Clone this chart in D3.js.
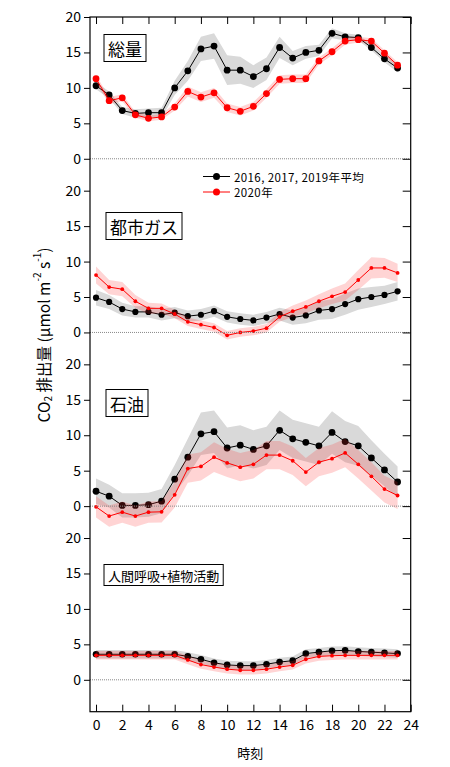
<!DOCTYPE html>
<html><head><meta charset="utf-8">
<script src="https://cdn.jsdelivr.net/npm/d3@7"></script>
<style>body{margin:0;background:#fff}svg{display:block}text{font-family:"Noto Sans CJK JP","DejaVu Sans",sans-serif}</style>
</head><body><svg id="c" width="450" height="767"></svg>
<script>
const hours = d3.range(0,24);
const panelNames = ["総量","都市ガス","石油","人間呼吸+植物活動"];
const seriesNames = ["2016, 2017, 2019年平均","2020年"];
const xTicks = [0,2,4,6,8,10,12,14,16,18,20,22,24];
const yTicks = [0,5,10,15,20];

// 総量
const totalAvg = [10.3,9.0,6.8,6.4,6.5,6.5,10.0,12.4,15.5,15.9,12.5,12.5,11.6,12.7,15.7,14.2,15.0,15.3,17.7,17.2,17.1,15.7,14.1,12.8];
const totalAvgErr = [0.5,0.5,0.5,0.6,0.6,0.7,1.0,1.4,1.7,1.8,2.1,1.9,1.6,1.6,1.5,1.0,0.9,0.8,0.7,0.5,0.4,0.4,0.5,0.6];
const total2020 = [11.3,8.2,8.6,6.2,5.7,5.9,7.3,9.5,8.7,9.3,7.2,6.7,7.4,9.2,11.2,11.3,11.3,13.8,15.1,16.6,16.8,16.6,14.9,13.2];
const total2020Err = [0.5,0.5,0.5,0.4,0.4,0.4,0.5,0.7,0.7,0.7,0.6,0.6,0.6,0.6,0.6,0.6,0.6,0.5,0.5,0.5,0.4,0.4,0.4,0.4];
// 都市ガス
const gasAvg = [4.9,4.3,3.3,2.9,2.9,2.5,2.8,2.3,2.5,3.0,2.2,1.9,1.7,2.1,2.6,2.1,2.4,3.1,3.3,4.0,4.7,5.0,5.3,5.8];
const gasAvgErr = [1.1,1.0,0.9,0.8,0.8,0.8,0.8,0.8,0.8,0.8,0.8,0.8,0.8,0.8,0.9,1.0,1.1,1.3,1.4,1.5,1.5,1.4,1.3,1.3];
const gas2020 = [8.1,6.4,6.1,4.4,3.4,3.4,2.6,1.5,1.1,0.7,-0.4,0.0,0.2,0.6,2.2,3.0,3.6,4.4,5.1,5.7,7.4,9.1,9.1,8.4];
const gas2020Err = [1.2,1.0,1.0,0.9,0.8,0.7,0.6,0.6,0.6,0.6,0.6,0.6,0.6,0.6,0.7,0.8,0.9,1.0,1.1,1.2,1.4,1.5,1.4,1.3];
// 石油
const oilAvg = [2.1,1.4,0.1,0.1,0.2,0.7,3.8,6.9,10.2,10.5,8.2,8.6,8.0,8.5,10.7,9.5,9.0,8.5,10.4,9.1,8.5,6.8,5.1,3.4];
const oilAvgErr = [1.8,1.6,1.7,1.7,1.7,1.7,2.0,2.6,3.0,3.0,2.9,2.8,2.7,2.7,2.8,2.7,2.7,2.7,3.0,2.9,2.8,2.5,2.3,2.2];
const oil2020 = [-0.1,-1.4,-0.85,-1.4,-0.85,-0.8,1.6,5.3,5.6,6.9,6.1,5.5,5.9,7.2,7.2,6.4,4.8,6.2,6.7,7.5,5.9,4.2,2.4,1.5];
const oil2020Err = [1.5,1.5,1.5,1.5,1.5,1.5,1.8,2.0,2.0,2.1,2.0,2.0,2.0,2.0,2.0,2.0,2.0,2.0,2.0,2.0,2.0,2.0,1.9,1.9];
// 人間呼吸+植物活動
const bioAvg = [3.6,3.6,3.6,3.6,3.6,3.6,3.6,3.3,2.9,2.4,2.1,2.0,2.0,2.2,2.5,2.7,3.7,3.9,4.1,4.15,4.0,3.9,3.8,3.7];
const bioAvgErr = [0.6,0.6,0.6,0.6,0.6,0.6,0.6,0.6,0.6,0.6,0.6,0.6,0.6,0.6,0.6,0.6,0.6,0.6,0.6,0.6,0.6,0.6,0.6,0.6];
const bio2020 = [3.45,3.45,3.45,3.45,3.45,3.45,3.45,2.8,2.15,1.8,1.5,1.35,1.35,1.5,1.8,2.05,2.9,3.3,3.4,3.45,3.45,3.45,3.45,3.45];
const bio2020Err = [0.6,0.6,0.6,0.6,0.6,0.6,0.6,0.6,0.6,0.6,0.6,0.6,0.6,0.6,0.6,0.6,0.6,0.6,0.6,0.6,0.6,0.6,0.6,0.6];

const panels = [
  {name:panelNames[0], avg:totalAvg, avgErr:totalAvgErr, cur:total2020, curErr:total2020Err, rA:3.4, rC:3.4, fs:17},
  {name:panelNames[1], avg:gasAvg, avgErr:gasAvgErr, cur:gas2020, curErr:gas2020Err, rA:3.1, rC:1.9, fs:17},
  {name:panelNames[2], avg:oilAvg, avgErr:oilAvgErr, cur:oil2020, curErr:oil2020Err, rA:3.4, rC:1.9, fs:17},
  {name:panelNames[3], avg:bioAvg, avgErr:bioAvgErr, cur:bio2020, curErr:bio2020Err, rA:3.3, rC:1.9, fs:13}
];

const svg = d3.select("#c");
const L=90, R=410.7, T=17, B=711.7;
const ph = (B-T)/4;
const x = d3.scaleLinear().domain([-0.46,24]).range([L,R]);

svg.append("defs").append("clipPath").attr("id","clip").append("rect")
  .attr("x",L).attr("y",T).attr("width",R-L).attr("height",B-T);

const plot = svg.append("g").attr("clip-path","url(#clip)");

panels.forEach((p,i)=>{
  const y = d3.scaleLinear().domain([-4.5,20]).range([T+ph*(i+1), T+ph*i]);
  p.y = y;
  svg.append("line").attr("x1",L).attr("x2",R).attr("y1",y(0)).attr("y2",y(0))
    .attr("stroke","#888").attr("stroke-width",1).attr("stroke-dasharray","1,1");
  const g = plot.append("g");
  const area = (vals,errs)=>d3.area().x((d,j)=>x(hours[j])).y0((d,j)=>y(vals[j]-errs[j])).y1((d,j)=>y(vals[j]+errs[j]))(vals);
  const line = vals=>d3.line().x((d,j)=>x(hours[j])).y(d=>y(d))(vals);
  g.append("path").attr("d",area(p.avg,p.avgErr)).attr("fill","#d9d9d9");
  g.append("path").attr("d",line(p.avg)).attr("fill","none").attr("stroke","#000").attr("stroke-width",1);
  g.selectAll(null).data(p.avg).join("circle").attr("cx",(d,j)=>x(hours[j])).attr("cy",d=>y(d)).attr("r",p.rA).attr("fill","#000");
  g.append("path").attr("d",area(p.cur,p.curErr)).attr("fill","rgba(255,40,40,0.2)");
  g.append("path").attr("d",line(p.cur)).attr("fill","none").attr("stroke","#f00").attr("stroke-width",1);
  g.selectAll(null).data(p.cur).join("circle").attr("cx",(d,j)=>x(hours[j])).attr("cy",d=>y(d)).attr("r",p.rC).attr("fill","#f00");

  const ax = svg.append("g").attr("transform",`translate(${L},0)`)
    .call(d3.axisLeft(y).tickValues(yTicks).tickSize(6).tickPadding(3).tickFormat(d3.format("d")));
  ax.select(".domain").remove();
  ax.selectAll("text").attr("font-size",14).attr("fill","#000");
  const axr = svg.append("g").attr("transform",`translate(${R},0)`)
    .call(d3.axisLeft(y).tickValues(yTicks).tickSize(8).tickFormat(""));
  axr.select(".domain").remove();

  const lg = svg.append("g");
  const ty = [48,226,403,575][i];
  const t = lg.append("text").attr("x",L+18+(i===1||i===2?2:0)).attr("y",ty).attr("dominant-baseline","central")
    .attr("font-size",p.fs).text(p.name);
  const bb = t.node().getBBox();
  lg.insert("rect","text").attr("x",bb.x-4).attr("y",bb.y-1).attr("width",bb.width+8).attr("height",bb.height+2)
    .attr("fill","#fff").attr("stroke","#000").attr("stroke-width",1);
});

const xb = svg.append("g").attr("transform",`translate(0,${B})`)
  .call(d3.axisBottom(x).tickValues(xTicks).tickSize(-7).tickPadding(8).tickFormat(d3.format("d")));
xb.select(".domain").remove();
xb.selectAll("text").attr("font-size",14).attr("fill","#000");
const xt = svg.append("g").attr("transform",`translate(0,${T})`)
  .call(d3.axisTop(x).tickValues(xTicks).tickSize(-7).tickFormat(""));
xt.select(".domain").remove();

svg.append("rect").attr("x",L).attr("y",T).attr("width",R-L).attr("height",B-T)
  .attr("fill","none").attr("stroke","#000").attr("stroke-width",1.2);

svg.append("text").attr("x",(L+R)/2).attr("y",752).attr("text-anchor","middle").attr("dominant-baseline","central")
  .attr("font-size",13).text("時刻");

const yt = svg.append("text").attr("transform","translate(43,335) rotate(-90)").attr("text-anchor","middle")
  .attr("dominant-baseline","central").attr("font-size",15.5);
yt.append("tspan").text("CO");
yt.append("tspan").attr("font-size",10).attr("dy",4).text("2");
yt.append("tspan").attr("dy",-4).text(" 排出量 (μmol m");
yt.append("tspan").attr("font-size",10).attr("dy",-7).text("-2");
yt.append("tspan").attr("dy",7).text(" s");
yt.append("tspan").attr("font-size",10).attr("dy",-7).text("-1");
yt.append("tspan").attr("dy",7).text(")");

const legY = [176.5,192];
const legCol = ["#000","#f00"];
seriesNames.forEach((s,i)=>{
  const g = svg.append("g");
  g.append("line").attr("x1",203).attr("x2",230).attr("y1",legY[i]).attr("y2",legY[i]).attr("stroke",legCol[i]).attr("stroke-width",1);
  g.append("circle").attr("cx",216.5).attr("cy",legY[i]).attr("r",3.5).attr("fill",legCol[i]);
  g.append("text").attr("x",234).attr("y",legY[i]).attr("dominant-baseline","central").attr("font-size",11.5)
    .attr("letter-spacing",0.4).text(s);
});
</script></body></html>
